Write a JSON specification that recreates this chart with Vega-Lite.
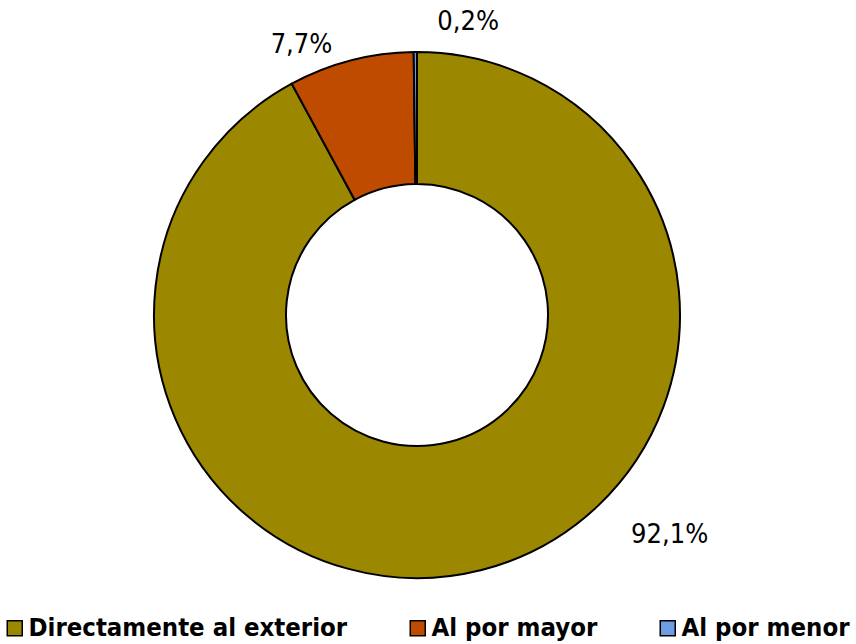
{
  "$schema": "https://vega.github.io/schema/vega-lite/v6.json",
  "width": 834,
  "height": 630,
  "autosize": "none",
  "padding": {"left": 0, "top": 0, "right": 22, "bottom": 14},
  "background": "white",
  "data": {
    "values": [
      {"cat": "Directamente al exterior", "valor": 92.1, "etiqueta": "92,1%", "orden": 1},
      {"cat": "Al por mayor", "valor": 7.7, "etiqueta": "7,7%", "orden": 2},
      {"cat": "Al por menor", "valor": 0.2, "etiqueta": "0,2%", "orden": 3}
    ]
  },
  "encoding": {
    "theta": {"field": "valor", "type": "quantitative", "stack": true},
    "order": {"field": "orden", "type": "quantitative"}
  },
  "layer": [
    {
      "mark": {"type": "arc", "outerRadius": 263, "innerRadius": 131, "stroke": "black", "strokeWidth": 2},
      "encoding": {
        "color": {
          "field": "cat",
          "type": "nominal",
          "sort": ["Directamente al exterior", "Al por mayor", "Al por menor"],
          "scale": {
            "domain": ["Directamente al exterior", "Al por mayor", "Al por menor"],
            "range": ["#9C8700", "#BF4B00", "#6F9BE0"]
          },
          "legend": {
            "title": null,
            "orient": "none",
            "direction": "horizontal",
            "legendX": 2,
            "legendY": 615,
            "symbolType": "square",
            "symbolSize": 225,
            "symbolStrokeColor": "black",
            "symbolStrokeWidth": 1.5,
            "labelFont": "DejaVu Sans Condensed",
            "labelFontSize": 25.5,
            "labelFontWeight": "bold",
            "labelColor": "black",
            "labelOffset": 1,
            "columnPadding": 57,
            "labelLimit": 500
          }
        }
      }
    },
    {
      "mark": {"type": "text", "radius": 300, "font": "DejaVu Sans Condensed", "fontSize": 27, "color": "black", "dx": 179, "dy": -71},
      "encoding": {
        "detail": {"field": "cat", "type": "nominal"},
        "text": {"condition": {"test": "datum.orden == 1", "field": "etiqueta"}, "value": ""}
      }
    },
    {
      "mark": {"type": "text", "radius": 300, "font": "DejaVu Sans Condensed", "fontSize": 27, "color": "black", "dx": -40, "dy": 20},
      "encoding": {
        "detail": {"field": "cat", "type": "nominal"},
        "text": {"condition": {"test": "datum.orden == 2", "field": "etiqueta"}, "value": ""}
      }
    },
    {
      "mark": {"type": "text", "radius": 300, "font": "DejaVu Sans Condensed", "fontSize": 27, "color": "black", "dx": 53, "dy": 7},
      "encoding": {
        "detail": {"field": "cat", "type": "nominal"},
        "text": {"condition": {"test": "datum.orden == 3", "field": "etiqueta"}, "value": ""}
      }
    }
  ],
  "view": {"stroke": null}
}
